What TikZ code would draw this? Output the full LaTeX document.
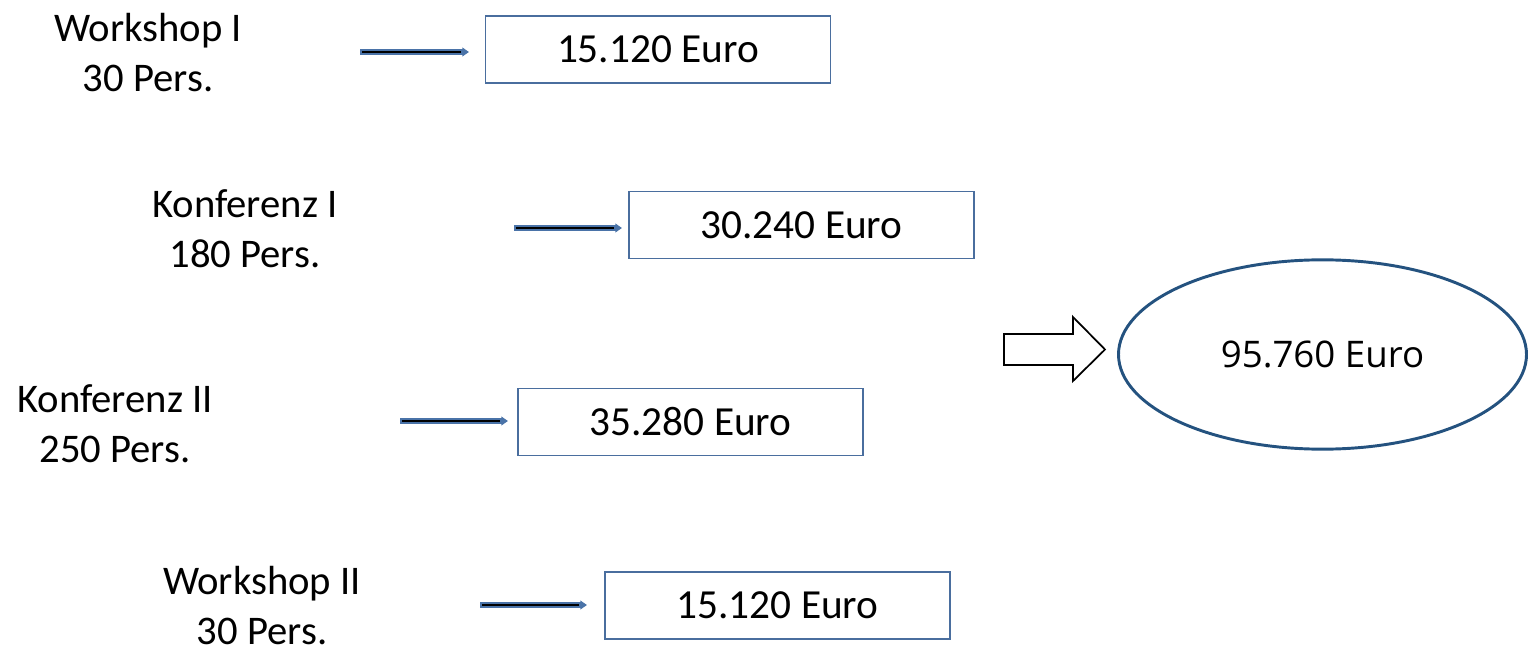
\documentclass[tikz,border=0pt]{standalone}
\usepackage{fontspec}
\setmainfont{Carlito}
\newfontfamily\ellfont{Open Sans}
\usetikzlibrary{arrows.meta,shapes.geometric}
\definecolor{boxblue}{HTML}{4A6E9E}
\definecolor{ellblue}{HTML}{24527F}
\definecolor{arrblue}{HTML}{4A73A8}
\begin{document}
\begin{tikzpicture}[x=0.75pt,y=-0.75pt,
  lbl/.style={align=center,font=\fontsize{30.5}{37.5}\selectfont,inner sep=0pt},
  euro/.style={draw=boxblue,line width=1.1pt,minimum width=258.75pt,minimum height=50.5pt,inner sep=0pt,font=\fontsize{31}{36}\selectfont},
  arrout/.style={draw=arrblue,line width=3.8pt,-{Triangle[length=5pt,width=6.5pt]}},
  arrin/.style={draw=black,line width=2pt},
]
\useasboundingbox (0,0) rectangle (1529,649);
% labels
\node[lbl] (l1) at (148,52.5) {Workshop I\\30 Pers.};
\node[lbl] (l2) at (245,228.5) {Konferenz I\\180 Pers.};
\node[lbl] (l3) at (115,423.5) {Konferenz II\\250 Pers.};
\node[lbl] (l4) at (262,606) {Workshop II\\30 Pers.};
% boxes
\node[euro] (b1) at (658,49.5) {15.120 Euro};
\node[euro] (b2) at (801.5,225) {30.240 Euro};
\node[euro] (b3) at (690.5,422) {35.280 Euro};
\node[euro] (b4) at (777.5,605.5) {15.120 Euro};
% small arrows
\coordinate (s1) at (360,52); \coordinate (e1) at (469,52);
\coordinate (s2) at (514,228); \coordinate (e2) at (622,228);
\coordinate (s3) at (400,421); \coordinate (e3) at (508,421);
\coordinate (s4) at (480,605); \coordinate (e4) at (587,605);
\foreach \i in {1,2,3,4}{
  \draw[arrout] (s\i) -- (e\i);
  \draw[arrin] ([xshift=1.5pt]s\i) -- ([xshift=-6pt]e\i);
}
% ellipse
\node[ellipse,draw=ellblue,line width=2.2pt,minimum width=306pt,minimum height=142pt,inner sep=0pt,font=\ellfont\fontsize{27.5}{32}\selectfont] (sum) at (1322.5,354.5) {95.760 Euro};
% block arrow
\draw[black,line width=1.3pt,line join=miter] (1004,334) -- (1073,334) -- (1073,317) -- (1105,349.5) -- (1073,381) -- (1073,365) -- (1004,365) -- cycle;
\end{tikzpicture}
\end{document}
